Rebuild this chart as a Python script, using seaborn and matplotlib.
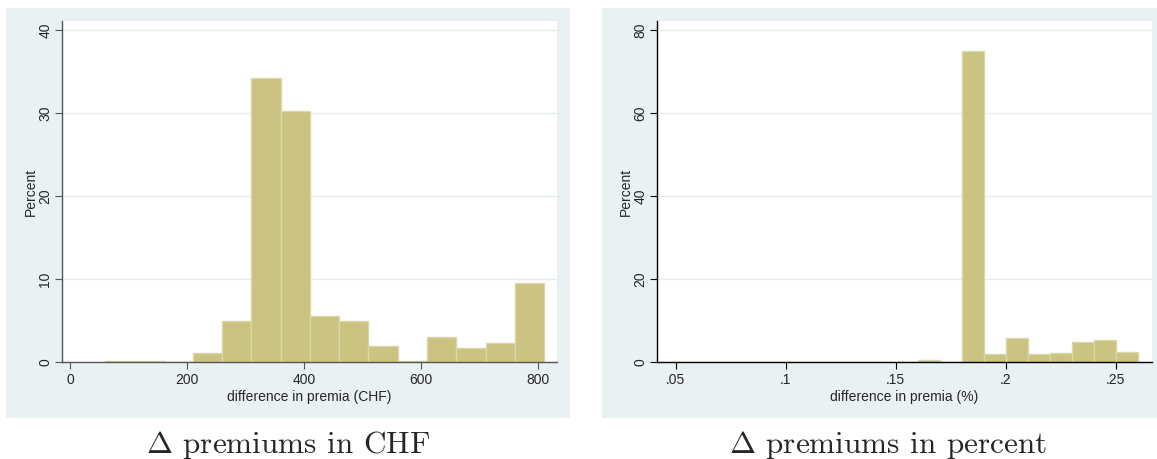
import numpy as np
import pandas as pd
import seaborn as sns
import matplotlib.pyplot as plt
from matplotlib.patches import Rectangle

# Histogram bins (lower edges) and bar heights in percent
chf_edges = [60, 110, 160, 210, 260, 310, 360, 410, 460, 510, 560, 610, 660, 710, 760, 810]
chf_pct = [0.08, 0.12, 0.0, 1.09, 4.96, 34.2, 30.3, 5.49, 5.0, 1.98, 0.12, 2.99, 1.7, 2.3, 9.56]

pct_edges = [0.05, 0.06, 0.07, 0.08, 0.09, 0.10, 0.11, 0.12, 0.13, 0.14, 0.15,
             0.16, 0.17, 0.18, 0.19, 0.20, 0.21, 0.22, 0.23, 0.24, 0.25, 0.26]
pct_pct = [0.1, 0.0, 0.0, 0.0, 0.1, 0.0, 0.0, 0.0, 0.0, 0.0, 0.0,
           0.4, 0.0, 74.9, 1.86, 5.73, 1.86, 2.18, 4.76, 5.33, 2.42]

chf_ticks = [0, 200, 400, 600, 800]
chf_yticks = [0, 10, 20, 30, 40]
pct_ticks = [0.05, 0.1, 0.15, 0.2, 0.25]
pct_ticklabels = ['.05', '.1', '.15', '.2', '.25']
pct_yticks = [0, 20, 40, 60, 80]

sns.set_style("white")
plt.rcParams['font.family'] = ['Liberation Sans', 'DejaVu Sans']
plt.rcParams['mathtext.fontset'] = 'cm'

bg = '#EAF1F3'
bar_color = '#CBC382'
edge_color = '#DCD7A8'
grid_color = '#E3ECF0'

fig = plt.figure(figsize=(11.57, 4.59), dpi=100)
W, H = 1157.0, 459.0

# panel backgrounds (Stata graph region)
for x0, x1 in [(6, 570), (602, 1157)]:
    fig.patches.append(Rectangle((x0 / W, 1 - 418 / H), (x1 - x0) / W, 410 / H,
                                 transform=fig.transFigure, facecolor=bg,
                                 edgecolor='none', zorder=-10))

ax1 = fig.add_axes([62 / W, 1 - 362 / H, (557 - 62) / W, (362 - 21) / H])
ax2 = fig.add_axes([657 / W, 1 - 362 / H, (1152 - 657) / W, (362 - 21) / H])

panels = [
    (ax1, chf_edges, chf_pct, (-13.5, 832), (0, 41.1), chf_ticks, [str(t) for t in chf_ticks],
     chf_yticks, 'difference in premia (CHF)', '#555555'),
    (ax2, pct_edges, pct_pct, (0.0415, 0.2665), (0, 82.2), pct_ticks, pct_ticklabels,
     pct_yticks, 'difference in premia (%)', '#000000'),
]

for ax, edges, heights, xlim, ylim, xt, xtl, yt, xlabel, spine_col in panels:
    df = pd.DataFrame({'x': edges[:-1], 'w': heights})
    df['x'] = df['x'] + (edges[1] - edges[0]) / 2
    sns.histplot(data=df, x='x', weights='w', bins=edges, stat='count',
                 color=bar_color, edgecolor=edge_color, linewidth=1.0, alpha=1,
                 ax=ax, zorder=2)
    ax.set_facecolor('white')
    ax.set_xlim(*xlim)
    ax.set_ylim(*ylim)
    ax.set_xticks(xt)
    ax.set_xticklabels(xtl, fontsize=10)
    ax.set_yticks(yt)
    ax.set_yticklabels([str(t) for t in yt], fontsize=10, rotation=90, va='center')
    ax.yaxis.grid(True, color=grid_color, linewidth=1.0, zorder=0)
    ax.set_axisbelow(True)
    for s in ['top', 'right']:
        ax.spines[s].set_visible(False)
    for s in ['left', 'bottom']:
        ax.spines[s].set_color(spine_col)
        ax.spines[s].set_linewidth(1.0)
    ax.tick_params(axis='both', direction='out', length=5, width=0.8,
                   color=spine_col, pad=3, left=True, bottom=True)
    ax.tick_params(axis='y', pad=2)
    ax.set_xlabel(xlabel, fontsize=10, labelpad=2)
    ax.set_ylabel('Percent', fontsize=10, labelpad=0)

fig.text(288 / W, 1 - 445 / H, r'$\Delta$ premiums in CHF', fontsize=22.5,
         family='cmr10', ha='center', va='center')
fig.text(888 / W, 1 - 445 / H, r'$\Delta$ premiums in percent', fontsize=22.5,
         family='cmr10', ha='center', va='center')

fig.savefig('out.png', dpi=100, facecolor='white')
